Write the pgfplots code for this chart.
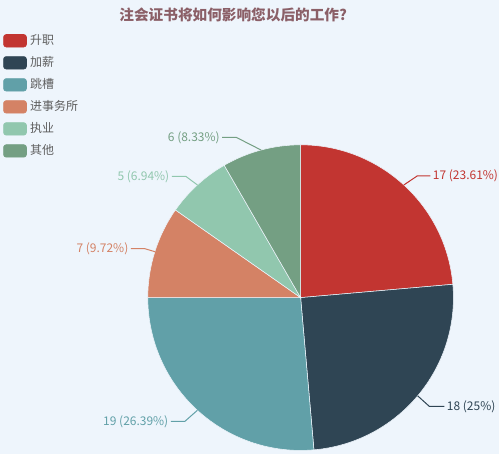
\documentclass[border=0pt]{standalone}
\usepackage{pgfplots}
\usepackage{pgfplotstable}
\pgfplotsset{compat=1.18}
\usepackage{fontspec}
\setmainfont{Noto Sans CJK SC}

\definecolor{bg}{HTML}{EEF5FC}
\definecolor{c0}{HTML}{C23531}
\definecolor{c1}{HTML}{2F4554}
\definecolor{c2}{HTML}{61A0A8}
\definecolor{c3}{HTML}{D48265}
\definecolor{c4}{HTML}{91C7AE}
\definecolor{c5}{HTML}{749F83}
\definecolor{titlecol}{HTML}{8B5F67}
\definecolor{legtext}{HTML}{5E5E5E}

\pgfkeys{/pgf/number format/assume math mode=true}

% survey answers; ex/ey = elbow of the label line, hx = its end (pixels)
\pgfplotstableread{
name value ex ey hx
升职 17 418 176 431
加薪 18 430 407 445
跳槽 19 185 422 171
进事务所 7 145 249 131
执业 5 186 176.5 172
其他 6 236.5 137.5 222.5
}\piedata

% 1px = 0.75pt, pie radius 153px
\def\R{114.75pt}
\def\total{72}
\gdef\acc{90}
% wedges run clockwise from 12 o'clock
\foreach \i in {0,...,5}{
  \pgfplotstablegetelem{\i}{value}\of\piedata
  \let\v\pgfplotsretval
  \pgfplotstablegetelem{\i}{ex}\of\piedata
  \expandafter\xdef\csname ex\i\endcsname{\pgfplotsretval}
  \pgfplotstablegetelem{\i}{ey}\of\piedata
  \expandafter\xdef\csname ey\i\endcsname{\pgfplotsretval}
  \pgfplotstablegetelem{\i}{hx}\of\piedata
  \expandafter\xdef\csname hx\i\endcsname{\pgfplotsretval}
  \pgfmathsetmacro\sa{\acc}
  \pgfmathsetmacro\ea{\acc-360*\v/\total}
  \pgfmathsetmacro\ma{(\sa+\ea)/2}
  \pgfmathsetmacro\pc{100*\v/\total}
  \expandafter\xdef\csname val\i\endcsname{\v}
  \expandafter\xdef\csname sa\i\endcsname{\sa}
  \expandafter\xdef\csname ea\i\endcsname{\ea}
  \expandafter\xdef\csname ma\i\endcsname{\ma}
  \expandafter\xdef\csname pc\i\endcsname{\pc}
  \pgfmathparse{cos(\ma)>0 ? "west" : "east"}
  \expandafter\xdef\csname an\i\endcsname{\pgfmathresult}
  \xdef\acc{\ea}
}

\begin{document}
\begin{tikzpicture}
\begin{axis}[
  scale only axis,
  width=375pt, height=341.25pt,
  xmin=0, xmax=500, ymin=0, ymax=455,
  y dir=reverse,
  hide axis,
  clip=false,
  legend style={at={(axis cs:3,34)}, anchor=north west,
    draw=none, fill=none, inner sep=0pt, row sep=6.75pt,
    font=\fontsize{9}{10}\selectfont, text=legtext,
    nodes={inner xsep=2.5pt, inner ysep=0pt}},
  legend cell align=left,
  legbox/.style={legend image code/.code={
    \fill[#1, rounded corners=2pt] (0pt,-4.7pt) rectangle (17.25pt,4.7pt);}},
]
\fill[bg] (rel axis cs:0,0) rectangle (rel axis cs:1,1);

\node[font=\bfseries\fontsize{11}{13}\selectfont, text=titlecol]
  at (axis cs:233.5,15) {注会证书将如何影响您以后的工作?};

\pgfplotsinvokeforeach{0,...,5}{
  \fill[c#1, draw=bg, line width=0.4pt] (axis cs:301,298)
    -- ++(\csname sa#1\endcsname:\R)
    arc[start angle=\csname sa#1\endcsname, end angle=\csname ea#1\endcsname, radius=\R]
    -- cycle;
  \draw[c#1, line width=0.75pt] (axis cs:301,298) ++(\csname ma#1\endcsname:\R)
    -- (axis cs:\csname ex#1\endcsname,\csname ey#1\endcsname)
    -- (axis cs:\csname hx#1\endcsname,\csname ey#1\endcsname)
    node[anchor=\csname an#1\endcsname, text=c#1, inner sep=1.5pt,
      font=\fontsize{9}{10}\selectfont]
    {\csname val#1\endcsname\ (\pgfmathprintnumber[fixed,precision=2]{\csname pc#1\endcsname}\%)};
}

\addlegendimage{legbox=c0}\addlegendentry{升职}
\addlegendimage{legbox=c1}\addlegendentry{加薪}
\addlegendimage{legbox=c2}\addlegendentry{跳槽}
\addlegendimage{legbox=c3}\addlegendentry{进事务所}
\addlegendimage{legbox=c4}\addlegendentry{执业}
\addlegendimage{legbox=c5}\addlegendentry{其他}
\end{axis}
\end{tikzpicture}
\end{document}
